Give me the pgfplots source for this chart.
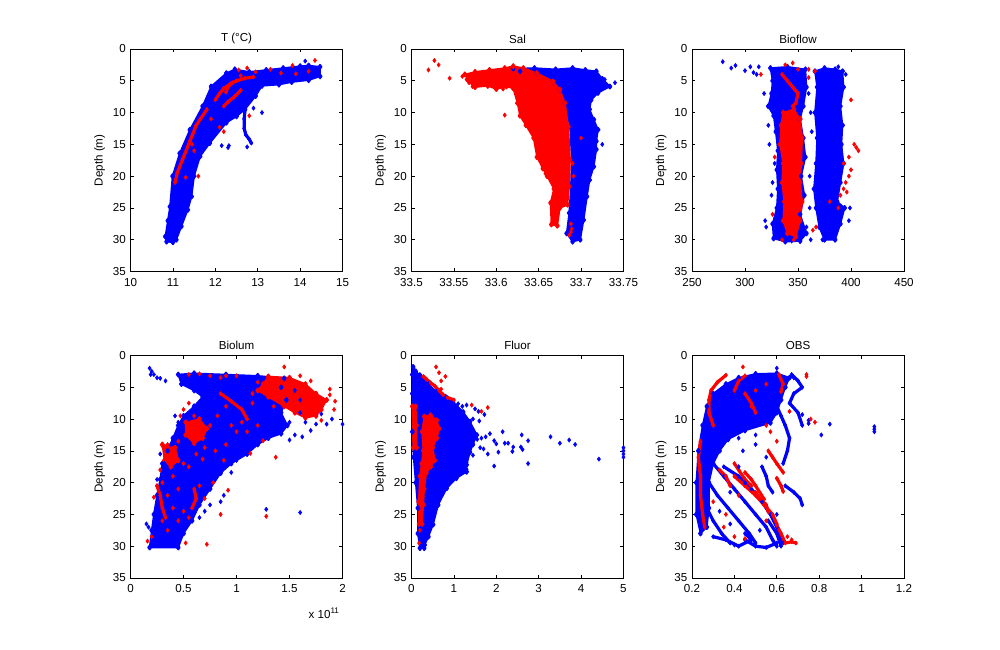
\documentclass[border=0pt]{standalone}
\usepackage{pgfplots}
\pgfplotsset{compat=1.18}
\usepackage{fontspec}
\setmainfont{Liberation Sans}
\definecolor{mb}{rgb}{0,0,1}
\definecolor{mr}{rgb}{1,0,0}
\pgfplotsset{
  mstyle/.style={
    scale only axis, width=159pt, height=166.9pt,
    anchor=north west,
    y dir=reverse, ymin=0, ymax=35, ytick={0,5,10,15,20,25,30,35},
    tick align=inside, major tick length=2.3pt,
    axis line style={line width=0.5pt}, every tick/.style={line width=0.5pt},
    tick label style={font=\fontsize{8.7}{9}\selectfont},
    xticklabel style={yshift=-1.5pt},
    label style={font=\fontsize{8.7}{9}\selectfont},
    title style={font=\fontsize{8.7}{9}\selectfont, yshift=-5.5pt},
    ylabel={Depth (m)}, ylabel style={yshift=-1pt},
    /pgf/number format/assume math mode=true,
    /pgf/number format/precision=3,
    scaled ticks=false,
    clip=false,
  },
  bfill/.style={draw=mb, fill=mb, line width=1.2pt, line join=round, mark=diamond*, mark size=1.6pt, mark options={draw=mb, fill=mb}},
  rfill/.style={draw=mr, fill=mr, line width=1.2pt, line join=round, mark=diamond*, mark size=1.6pt, mark options={draw=mr, fill=mr}},
  btr/.style={draw=mb, line width=2.4pt, line join=round, line cap=round, mark=diamond*, mark size=1.6pt, mark options={draw=mb, fill=mb, line width=0.4pt}},
  rtr/.style={draw=mr, line width=2.4pt, line join=round, line cap=round, mark=diamond*, mark size=1.6pt, mark options={draw=mr, fill=mr, line width=0.4pt}},
  bpt/.style={only marks, mark=diamond*, mark size=1.6pt, mark options={draw=mb, fill=mb, line width=0.4pt}},
  rpt/.style={only marks, mark=diamond*, mark size=1.6pt, mark options={draw=mr, fill=mr, line width=0.4pt}},
}
\begin{document}
\begin{tikzpicture}
\path[use as bounding box] (0,0) rectangle (750pt,487.5pt);
% ---------------- Panel 1: T ----------------
\begin{axis}[mstyle, at={(97.9pt,450.75pt)}, title={T (°C)},
  xmin=10, xmax=15, xtick={10,11,12,13,14,15}]
\addplot[bfill] coordinates {(10.85,30.3) (10.82,29.5) (10.88,27) (10.93,24.8) (10.99,20) (11.16,16.4) (11.4,12.7) (11.7,9) (11.9,5.9) (12.26,3.8) (12.46,3.2) (12.8,3.6) (13.2,3.3) (13.6,3.0) (14.0,2.7) (14.2,2.6) (14.47,2.8) (14.47,4.3) (14.2,4.9) (13.8,5.2) (13.5,5.6) (13.1,5.8) (12.95,7.4) (12.7,9.5) (12.5,10.6) (12.26,11.6) (11.87,14.8) (11.64,16.9) (11.5,20) (11.44,23.2) (11.35,25.3) (11.2,27.9) (11.08,30) (11.0,30.4)} -- cycle;
\addplot[btr] coordinates {(12.7,9.6) (12.68,11) (12.68,12.5) (12.72,13.5) (12.8,14.2) (12.85,14.8)};
\addplot[bpt] coordinates {(12.75,15.4) (12.15,15.2) (12.3,15.5) (12.32,15.2) (13.1,10) (14.12,1.9) (12.9,9.3)};
\addplot[rtr] coordinates {(11.05,21) (11.1,19.5) (11.25,17) (11.4,14.5) (11.55,12) (11.65,11) (11.8,9.5)};
\addplot[rtr] coordinates {(12.0,8) (12.1,7) (12.2,6.2) (12.35,5.5) (12.5,5) (12.7,4.6) (12.9,4.4)};
\addplot[rtr] coordinates {(12.2,9) (12.3,8.3) (12.45,7.5) (12.6,6.5)};
\addplot[rtr] coordinates {(12.25,6.8) (12.3,6.0) (12.4,5.3)};
\addplot[rpt] coordinates {(12.55,3.3) (12.75,3.0) (12.95,3.6) (13.3,3.2) (13.55,3.8) (13.82,2.6) (14.35,1.8) (13.9,3.9) (14.2,3.5) (11.9,11) (12.1,12.3) (12.2,13) (11.5,16) (11.3,20.2) (11.6,20) (12.8,10.5) (11.45,15) (12.6,4.2)};
\end{axis}
% ---------------- Panel 2: Sal ----------------
\begin{axis}[mstyle, at={(308.6pt,450.75pt)}, title={Sal},
  xmin=33.5, xmax=33.75, xtick={33.5,33.55,33.6,33.65,33.7,33.75},
  xticklabels={33.5,33.55,33.6,33.65,33.7,33.75}]
\addplot[bfill] coordinates {(33.62,3.1) (33.645,3.0) (33.67,3.2) (33.69,3.0) (33.705,3.3) (33.718,3.5) (33.725,4.7) (33.734,5.9) (33.72,6.9) (33.712,8) (33.71,9.5) (33.715,11.1) (33.72,12.7) (33.718,14.5) (33.718,15.8) (33.715,18.5) (33.71,20.6) (33.707,23.2) (33.703,26.9) (33.699,30) (33.69,30.3) (33.683,29) (33.686,25.8) (33.688,21.6) (33.689,17.4) (33.687,12.2) (33.681,8.5) (33.675,6.4) (33.667,5.1) (33.648,3.8) (33.628,3.5)} -- cycle;
\addplot[bpt] coordinates {(33.74,5.3) (33.728,4.8) (33.722,6.1) (33.715,4.1) (33.705,3.6) (33.692,3.3) (33.725,15.0) (33.71,9.4) (33.685,3.4) (33.718,5.9)};
\addplot[rfill] coordinates {(33.563,4.0) (33.575,3.6) (33.592,3.3) (33.61,3.0) (33.62,2.7) (33.632,3.0) (33.648,3.8) (33.667,5.1) (33.675,6.4) (33.681,8.5) (33.685,12.2) (33.687,17.4) (33.686,21.6) (33.684,24.5) (33.675,25) (33.672,27.8) (33.665,27.6) (33.664,24.2) (33.668,22) (33.66,20) (33.655,18.8) (33.648,17) (33.644,14) (33.635,12) (33.628,10.5) (33.625,8.5) (33.62,6.2) (33.612,5.9) (33.6,6.3) (33.59,5.8) (33.575,6.0) (33.568,5.2)} -- cycle;
\addplot[rpt] coordinates {(33.52,3.3) (33.527,1.8) (33.532,2.5) (33.545,4.6) (33.56,4.3) (33.565,4.8) (33.572,5.9) (33.61,10.4) (33.608,6.3) (33.655,18.6) (33.658,19.6) (33.7,14) (33.688,27.5) (33.689,28.3) (33.686,29.3) (33.688,28.8) (33.69,18) (33.691,20)};
\end{axis}
% ---------------- Panel 3: Bioflow ----------------
\begin{axis}[mstyle, at={(519.0pt,450.75pt)}, title={Bioflow},
  xmin=250, xmax=450, xtick={250,300,350,400,450}]
\addplot[bfill] coordinates {(324,3) (340,2.8) (357,3.2) (358,6) (355,9) (352,11) (355,14) (357,17) (353,20) (356,23) (352,26) (358,29) (352,30.2) (338,30.3) (327,29.8) (326,27.5) (330,25) (331,22) (330,19) (331,16) (329,13) (327,10.5) (322,9) (325,7) (326,5)} -- cycle;
\addplot[bfill] coordinates {(366,3.5) (375,3) (385,3.2) (392,3.5) (393,6) (390,9) (392,12) (391,15) (393,18) (390,21) (387,24) (394,25) (390,27.5) (385,30) (375,30) (370,28) (367,25) (365,22) (367,18) (368,14) (366,10) (368,6)} -- cycle;
\addplot[rfill] coordinates {(336,10) (346,9.5) (352,11) (354,14) (353,18) (352,21) (354,24) (352,27) (348,29.5) (340,29) (336,27) (337,24) (335,21) (336,18) (333,15) (334,12)} -- cycle;
\addplot[rtr] coordinates {(335,4) (340,5) (345,6) (350,7) (348,8.5) (345,9)};
\addplot[bpt] coordinates {(279,2) (287,3) (291,2.6) (300,3.4) (305,2.8) (308,3.7) (313,2.8) (311,4) (318,7) (322,12) (319,27) (320,28) (323,15) (325,23) (360,7) (362,10) (363,13) (361,20) (361,25) (373,30) (362,30) (358,28) (399,25) (398,27) (388,2.8) (395,4) (328,18) (326,21) (330,28.5) (344,30.2)};
\addplot[rpt] coordinates {(315,4) (326,26) (328,17) (364,28.5) (338,2.5) (345,2.2) (350,3.2) (360,3.2) (366,3.5) (360,4.5) (400,8) (403,15) (405,15.5) (407,16) (398,17) (393,18) (400,19) (398,20) (395,21) (393,22) (390,23) (396,22.5) (388,25) (380,24) (367,28) (335,30) (346,30)};
\end{axis}
% ---------------- Panel 4: Biolum ----------------
\begin{axis}[mstyle, at={(97.9pt,220.9pt)}, title={Biolum},
  xmin=0, xmax=2, xtick={0,0.5,1,1.5,2}]
\addplot[bfill] coordinates {(0.18,30.2) (0.45,30.2) (0.5,28) (0.58,26) (0.65,23.5) (0.75,21) (0.85,18.5) (0.95,17) (1.1,15.5) (1.2,14) (1.3,13) (1.42,12.3) (1.48,11) (1.42,9) (1.47,7) (1.42,5) (1.45,3.6) (1.2,3.2) (0.9,3.0) (0.6,2.8) (0.45,3.0) (0.48,4.5) (0.6,5.5) (0.68,6.5) (0.6,8) (0.5,9.5) (0.45,11) (0.4,13) (0.35,15) (0.3,17) (0.28,19.5) (0.25,22) (0.22,25) (0.2,27.5)} -- cycle;
\addplot[rfill] coordinates {(1.3,3.3) (1.5,3.5) (1.65,4.5) (1.75,6) (1.85,7) (1.8,8.5) (1.75,9.5) (1.65,9.8) (1.55,9) (1.45,8) (1.3,6.5) (1.2,5.5) (1.25,4.5)} -- cycle;
\addplot[rfill] coordinates {(0.52,10.5) (0.65,10) (0.72,11.5) (0.68,13) (0.6,13.8) (0.52,12.5)} -- cycle;
\addplot[rfill] coordinates {(0.3,14) (0.42,14.5) (0.45,16.5) (0.38,17.5) (0.32,16.5)} -- cycle;
\addplot[rtr] coordinates {(0.25,20.5) (0.28,22) (0.3,24) (0.33,25.5)};
\addplot[rtr] coordinates {(0.6,21) (0.62,22.5) (0.58,24)};
\addplot[rtr] coordinates {(0.85,6) (0.95,7.2) (1.05,8.5) (1.1,10)};
\addplot[bpt] coordinates {(0.18,2.0) (0.2,2.5) (0.19,3.0) (0.22,3.0) (0.25,3.5) (0.28,3.6) (0.33,4.0) (0.42,9.5) (0.45,10.5) (0.48,12) (0.55,10) (0.7,8.5) (0.75,9.5) (1.0,16.5) (1.1,15.3) (0.95,18.4) (0.88,22) (0.85,23) (0.75,23.5) (0.7,24.5) (0.65,25.5) (1.28,24.2) (1.6,24.7) (1.55,5.5) (1.6,7) (1.6,9) (1.65,10.5) (1.7,11.8) (1.55,12.5) (1.5,13.3) (1.62,12.8) (1.75,10.8) (1.85,10.8) (2.0,10.8) (1.9,10) (1.8,9.2) (1.5,10.5) (1.35,11.5) (1.25,12.2) (0.28,15.5) (0.25,19.5) (0.32,17) (0.38,14) (0.17,27) (0.15,26.5) (0.78,17) (0.8,19.2)};
\addplot[rpt] coordinates {(1.45,1.8) (1.6,3.2) (1.7,4) (1.88,5.3) (1.88,6.2) (1.93,7.2) (1.92,8.5) (1.8,10.2) (1.7,8) (1.35,8) (1.15,7.5) (1.0,3.2) (0.9,3.2) (0.75,3.2) (0.65,2.9) (0.55,3.0) (0.85,3.5) (1.2,4.2) (1.4,4.5) (0.5,8.5) (0.6,9.5) (0.55,7.5) (0.47,9.5) (0.45,13.5) (0.35,14) (0.3,14.2) (0.5,17) (0.55,17.5) (0.62,15.5) (0.68,16.3) (0.8,15) (0.9,14) (1.0,12) (1.05,10.5) (0.95,11) (1.13,15.4) (1.37,16) (0.88,16.5) (0.22,22.3) (0.25,20.5) (0.28,18) (0.3,20) (0.35,22) (0.4,24) (0.45,26) (0.5,24.5) (0.55,25.5) (0.65,20.5) (0.7,22.5) (0.78,20) (0.85,25) (0.92,21.2) (0.72,29.7) (0.52,29.5) (0.16,29.2) (0.2,28.5) (0.3,26) (1.28,25.3) (0.75,11) (0.82,9.5) (0.9,8) (1.1,12) (1.2,11) (0.7,14.5) (0.4,19) (0.35,27.5) (0.45,21) (1.25,13.4) (1.15,6)};
\node[anchor=north east, font=\fontsize{8.7}{9}\selectfont, inner sep=0pt] at ([xshift=-2pt,yshift=-22pt]axis description cs:1,0) {x 10\textsuperscript{11}};
\end{axis}
% ---------------- Panel 5: Fluor ----------------
\begin{axis}[mstyle, at={(308.6pt,220.9pt)}, title={Fluor},
  xmin=0, xmax=5, xtick={0,1,2,3,4,5}]
\addplot[bfill] coordinates {(0.04,1.8) (0.1,2.5) (0.2,3.1) (0.4,4.5) (0.59,5.7) (0.8,6.5) (0.98,7.3) (1.22,8.9) (1.38,10.4) (1.54,12.5) (1.45,14) (1.38,15.2) (1.3,17.2) (1.3,18.3) (1.06,19.3) (0.83,20.9) (0.63,23.5) (0.51,26.6) (0.4,28.5) (0.31,29.8) (0.3,30.3) (0.2,30.3) (0.15,28) (0.15,24) (0.1,20) (0.05,16) (0.02,12) (0.02,6) (0.02,3)} -- cycle;
\addplot[bpt] coordinates {(1.1,7.6) (1.2,8) (1.3,7.8) (1.5,8.4) (1.58,8.8) (1.72,9.3) (1.45,10) (1.6,10.3) (1.5,13) (1.55,13.2) (1.65,13) (1.7,14.7) (1.62,14.5) (1.45,15.7) (1.3,16.8) (1.3,17.9) (1.75,12.8) (1.85,12.3) (1.8,15.5) (1.95,13.4) (2.0,13.9) (1.95,17.4) (2.05,15.2) (2.15,12) (2.2,13.8) (2.28,13.8) (2.4,14.4) (2.38,15.1) (2.6,12.5) (2.58,14.4) (2.62,14.8) (2.75,13.4) (2.75,17) (3.28,12.8) (3.5,13.8) (3.72,13.3) (3.86,14) (4.42,16.3) (5.0,14.5) (5.0,15.0) (5.0,15.5) (5.0,16.0)};
\addplot[rfill] coordinates {(0.3,9.6) (0.45,9.4) (0.6,10.2) (0.65,11.5) (0.6,13) (0.5,14.5) (0.55,16.5) (0.45,17.5) (0.35,18.5) (0.3,21) (0.28,23.5) (0.25,26.5) (0.18,26.5) (0.17,23) (0.2,19) (0.24,17) (0.28,15) (0.25,12)} -- cycle;
\addplot[rfill] coordinates {(0.02,8) (0.1,8) (0.12,11) (0.12,14.5) (0.04,14.5)} -- cycle;
\addplot[rtr] coordinates {(0.28,3.3) (0.35,3.7) (0.45,4.3) (0.55,4.8) (0.65,5.5) (0.75,6.2) (0.85,6.6) (1.0,7.0)};
\addplot[rpt] coordinates {(0.58,1.8) (0.65,2.7) (0.7,4.0) (0.8,3.3) (0.7,5.3) (1.42,7.8) (1.65,8.8) (1.8,8.2) (0.2,27.5) (0.18,29.5) (0.48,14.7)};
\end{axis}
% ---------------- Panel 6: OBS ----------------
\begin{axis}[mstyle, at={(519.0pt,220.9pt)}, title={OBS},
  xmin=0.2, xmax=1.2, xtick={0.2,0.4,0.6,0.8,1,1.2}]
\addplot[bfill] coordinates {(0.3,6) (0.36,4.5) (0.42,3.5) (0.5,2.9) (0.6,2.8) (0.66,3.5) (0.64,5) (0.62,7) (0.6,9) (0.57,10.6) (0.45,11.8) (0.37,13.2) (0.33,15) (0.3,17) (0.28,20) (0.28,24) (0.27,27) (0.24,28) (0.22,25) (0.22,20) (0.23,15) (0.25,11) (0.27,8)} -- cycle;
\addplot[btr] coordinates {(0.67,3) (0.7,4) (0.72,5) (0.68,6) (0.66,7.5) (0.7,9) (0.72,11)};
\addplot[btr] coordinates {(0.6,8) (0.62,9.5) (0.64,11) (0.66,13) (0.65,15) (0.63,17)};
\addplot[btr] coordinates {(0.53,17.5) (0.55,19) (0.56,20.5) (0.58,21.5)};
\addplot[btr] coordinates {(0.64,20.5) (0.68,21.5) (0.71,22.5) (0.72,23.5)};
\addplot[btr] coordinates {(0.3,17) (0.35,19) (0.4,21) (0.45,23) (0.5,25) (0.55,27) (0.58,29) (0.6,30)};
\addplot[btr] coordinates {(0.28,20) (0.32,22) (0.37,24) (0.42,26) (0.47,28) (0.5,29.5)};
\addplot[btr] coordinates {(0.35,17.5) (0.42,19) (0.48,21) (0.53,23) (0.57,25) (0.6,27) (0.63,29.5)};
\addplot[btr] coordinates {(0.27,24) (0.3,26) (0.34,28) (0.38,29.5)};
\addplot[btr] coordinates {(0.45,29) (0.5,30) (0.55,30.2) (0.6,29.5)};
\addplot[btr] coordinates {(0.56,26) (0.6,28) (0.62,30)};
\addplot[btr] coordinates {(0.45,28) (0.48,29) (0.42,30) (0.36,29) (0.3,28.5)};
\addplot[rtr] coordinates {(0.36,3.1) (0.32,4.2) (0.29,5.5) (0.28,7) (0.28,9) (0.3,11)};
\addplot[rtr] coordinates {(0.24,13.5) (0.23,16) (0.24,19) (0.24,22) (0.25,25) (0.26,27)};
\addplot[rtr] coordinates {(0.61,3) (0.63,4.5) (0.62,5.7)};
\addplot[rtr] coordinates {(0.45,6) (0.48,7.5) (0.5,9)};
\addplot[rtr] coordinates {(0.56,15) (0.58,16) (0.6,17) (0.63,18.4)};
\addplot[rtr] coordinates {(0.6,19.3) (0.62,20.5) (0.63,21.4)};
\addplot[rtr] coordinates {(0.45,18.4) (0.48,19.5) (0.5,20.5) (0.54,22.6)};
\addplot[rtr] coordinates {(0.4,19) (0.45,20.5) (0.5,22) (0.54,23.5) (0.58,25) (0.6,26.5)};
\addplot[rtr] coordinates {(0.5,21.5) (0.52,22.5) (0.55,23.5) (0.56,24.6)};
\addplot[rtr] coordinates {(0.6,26.7) (0.62,28) (0.64,29.5) (0.67,29.3) (0.69,29.5)};
\addplot[rtr] coordinates {(0.45,3.2) (0.42,4) (0.4,5.5)};
\addplot[rtr] coordinates {(0.4,17) (0.42,18) (0.45,19.5) (0.48,20.5)};
\addplot[rtr] coordinates {(0.33,18) (0.36,19) (0.38,20.5)};
\addplot[bpt] coordinates {(0.72,9.3) (0.75,10.2) (0.75,10.7) (0.81,12.5) (0.85,10.8) (1.06,11.2) (1.06,11.6) (1.06,12.0) (0.6,2) (0.68,3.5) (0.44,15) (0.42,17.5) (0.45,20) (0.6,25) (0.38,21.5) (0.5,14) (0.55,16) (0.4,29.8) (0.33,24.5) (0.38,26.5) (0.52,27.5) (0.42,13) (0.5,12.5)};
\addplot[rpt] coordinates {(0.44,1.8) (0.74,3.0) (0.74,3.3) (0.76,10) (0.78,10.5) (0.66,8.8) (0.5,5.5) (0.55,4.5) (0.48,8) (0.57,12) (0.55,11) (0.6,13.5) (0.65,28.5) (0.67,29) (0.35,27) (0.4,28.5) (0.45,28.8) (0.42,22) (0.55,26) (0.3,23) (0.36,25)};
\end{axis}
\end{tikzpicture}
\end{document}
